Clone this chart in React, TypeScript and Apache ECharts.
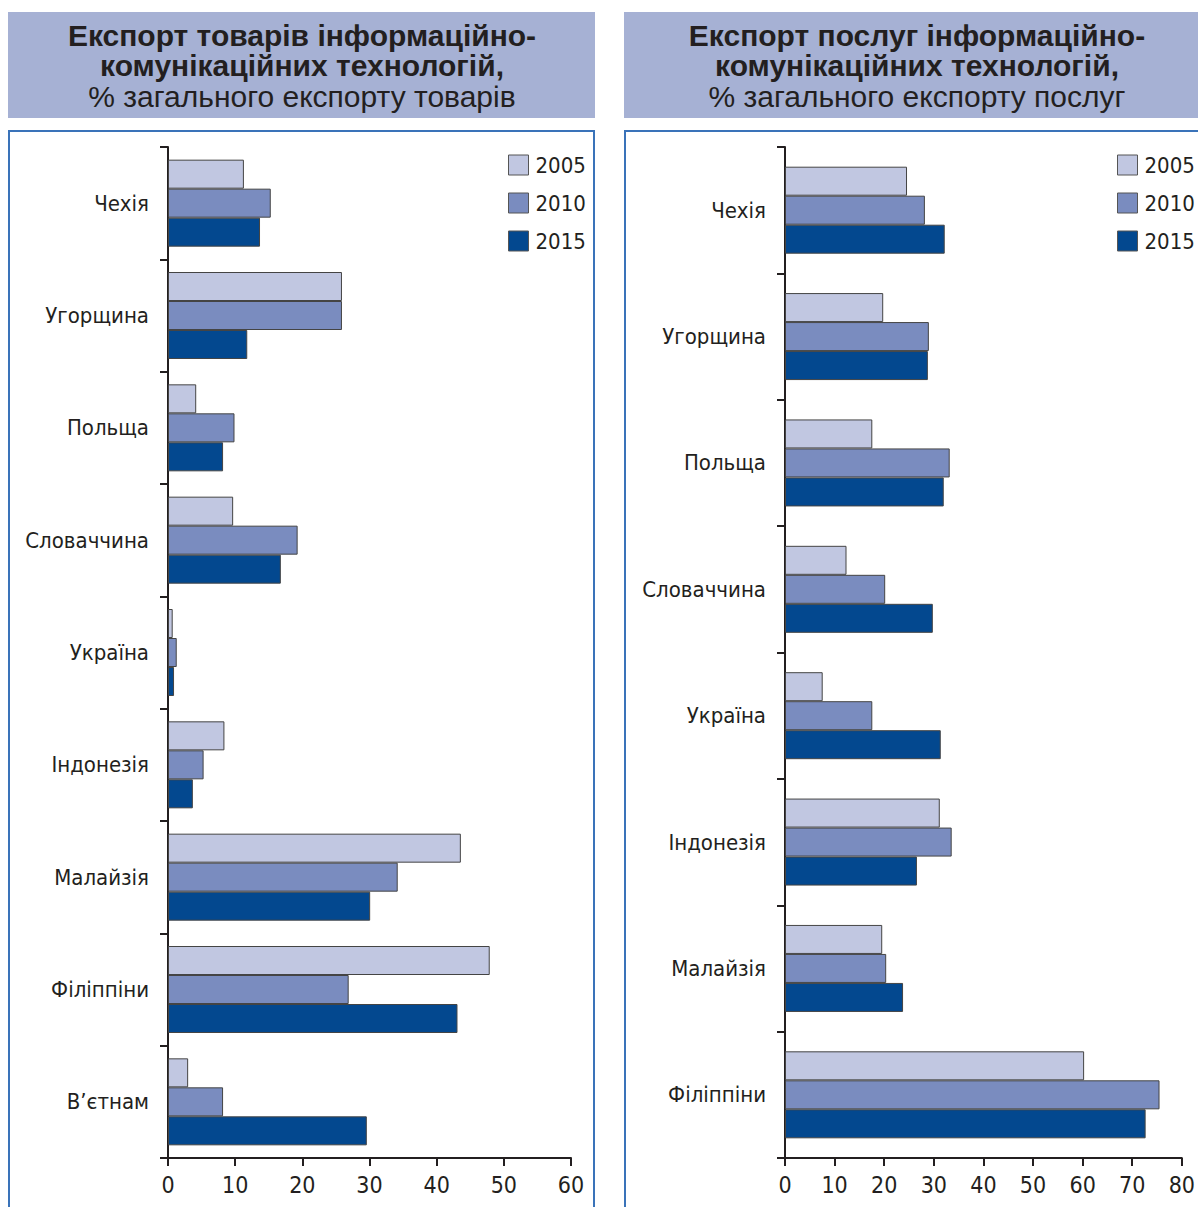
import React, { useEffect, useRef } from "react";
import * as echarts from "echarts";

const years = ["2005", "2010", "2015"];
const catsGoods = ["Чехія", "Угорщина", "Польща", "Словаччина", "Україна", "Індонезія", "Малайзія", "Філіппіни", "В’єтнам"];
const goods2005 = [11.3, 25.9, 4.2, 9.7, 0.7, 8.4, 43.6, 47.9, 3.0];
const goods2010 = [15.3, 25.9, 9.9, 19.3, 1.3, 5.3, 34.2, 26.9, 8.2];
const goods2015 = [13.7, 11.8, 8.2, 16.8, 0.9, 3.7, 30.1, 43.1, 29.6];

const catsServ = ["Чехія", "Угорщина", "Польща", "Словаччина", "Україна", "Індонезія", "Малайзія", "Філіппіни"];
const serv2005 = [24.6, 19.8, 17.6, 12.4, 7.6, 31.2, 19.6, 60.3];
const serv2010 = [28.2, 29.0, 33.2, 20.2, 17.6, 33.6, 20.4, 75.5];
const serv2015 = [32.2, 28.8, 32.0, 29.8, 31.4, 26.6, 23.8, 72.7];

const titleLeft = ["Експорт товарів інформаційно-", "комунікаційних технологій,", "% загального експорту товарів"];
const titleRight = ["Експорт послуг інформаційно-", "комунікаційних технологій,", "% загального експорту послуг"];

const colors = ["#c1c7e1", "#7a8cbf", "#03488f"];
const NARROW = "'Liberation Sans Narrow', 'DejaVu Sans Condensed', 'Roboto', sans-serif";
const SANS = "'Liberation Sans', Arial, sans-serif";
const TEXT = "#231f20";

export default function App() {
  const ref = useRef<HTMLDivElement>(null);
  useEffect(() => {
    if (!ref.current) return;
    const chart = echarts.init(ref.current, undefined, { renderer: "svg" });

    const mkX = (gi: number, max: number) => ({
      type: "value",
      gridIndex: gi,
      min: 0,
      max,
      interval: 10,
      splitLine: { show: false },
      axisLine: { show: true, lineStyle: { color: TEXT, width: 2 } },
      axisTick: { show: true, length: 8, lineStyle: { color: TEXT, width: 2 } },
      axisLabel: { color: TEXT, fontFamily: NARROW, fontSize: 23, margin: 15 },
    });
    const mkY = (gi: number, cats: string[]) => ({
      type: "category",
      gridIndex: gi,
      data: cats,
      inverse: true,
      axisLine: { show: true, lineStyle: { color: TEXT, width: 2 } },
      axisTick: { show: true, length: 8, lineStyle: { color: TEXT, width: 2 } },
      axisLabel: { color: TEXT, fontFamily: NARROW, fontSize: 22, margin: 19 },
    });

    const mkSeries = (gi: number, data: number[][]) =>
      data.map((d, i) => ({
        type: "bar",
        name: years[i],
        xAxisIndex: gi,
        yAxisIndex: gi,
        data: d,
        barWidth: 29,
        barGap: "0%",
        itemStyle: { color: colors[i], borderColor: "#444", borderWidth: 1 },
      }));

    const mkTitle = (lines: string[], cx: number) => [
      { type: "text", x: cx, y: 35, style: { text: lines[0], font: `bold 30px ${SANS}`, lineHeight: 30, fill: TEXT, align: "center", verticalAlign: "middle" } },
      { type: "text", x: cx, y: 65.5, style: { text: lines[1], font: `bold 30px ${SANS}`, lineHeight: 30, fill: TEXT, align: "center", verticalAlign: "middle" } },
      { type: "text", x: cx, y: 96.5, style: { text: lines[2], font: `30px ${SANS}`, lineHeight: 30, fill: TEXT, align: "center", verticalAlign: "middle" } },
    ];

    const legendCommon = {
      orient: "vertical",
      data: years,
      itemWidth: 20,
      itemHeight: 20,
      itemGap: 16,
      icon: "rect",
      itemStyle: { borderColor: "#555", borderWidth: 1 },
      textStyle: { color: TEXT, fontFamily: NARROW, fontSize: 22, lineHeight: 20, padding: [0, 0, 0, 2] },
      selectedMode: false,
    };

    chart.setOption({
      animation: false,
      color: colors,
      graphic: [
        { type: "rect", shape: { x: 8, y: 12, width: 587, height: 106 }, style: { fill: "#a6b1d4" }, z: -10 },
        { type: "rect", shape: { x: 624, y: 12, width: 600, height: 106 }, style: { fill: "#a6b1d4" }, z: -10 },
        { type: "rect", shape: { x: 9, y: 131, width: 585, height: 1100 }, style: { fill: "none", stroke: "#3a73b9", lineWidth: 2 }, z: -10 },
        { type: "rect", shape: { x: 625, y: 131, width: 600, height: 1100 }, style: { fill: "none", stroke: "#3a73b9", lineWidth: 2 }, z: -10 },
        ...mkTitle(titleLeft, 302),
        ...mkTitle(titleRight, 917),
      ],
      legend: [
        { ...legendCommon, left: 503, top: 149 },
        { ...legendCommon, left: 1112, top: 149 },
      ],
      grid: [
        { left: 168, top: 147, width: 403, height: 1011, containLabel: false },
        { left: 785, top: 147, width: 400, height: 1011, containLabel: false },
      ],
      xAxis: [mkX(0, 60), mkX(1, 80)],
      yAxis: [mkY(0, catsGoods), mkY(1, catsServ)],
      series: [
        ...mkSeries(0, [goods2005, goods2010, goods2015]),
        ...mkSeries(1, [serv2005, serv2010, serv2015]),
      ],
    });
    return () => chart.dispose();
  }, []);
  return (
    <div
      ref={ref}
      style={{ position: "absolute", left: 0, top: 0, width: 1198, height: 1207, background: "#fff" }}
    />
  );
}
